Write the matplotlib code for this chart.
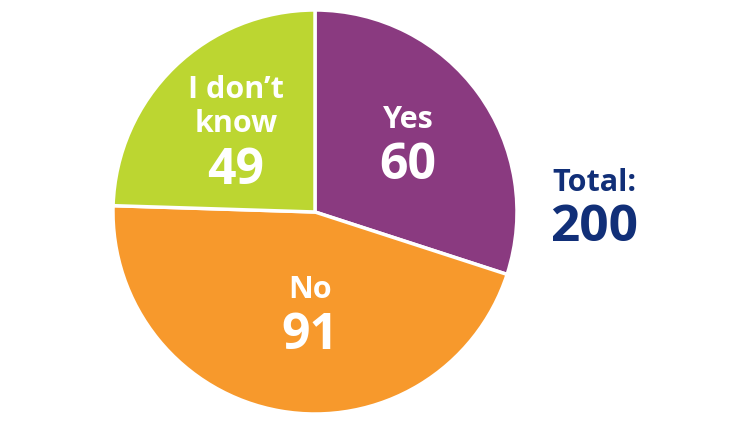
import matplotlib
matplotlib.use("Agg")
import matplotlib.pyplot as plt

labels = ["Yes", "No", "I don\u2019t\nknow"]
values = [60, 91, 49]
colors = ["#8A3A80", "#F7992C", "#BCD631"]
total_label = "Total:"
total_value = sum(values)

plt.rcParams['font.family'] = ['Open Sans', 'DejaVu Sans']

fig = plt.figure(figsize=(7.5, 4.22), dpi=100)
ax = fig.add_axes([0, 0, 1, 1])

cx, cy, r = 315, 210, 202
wedges, _ = ax.pie(values, colors=colors, startangle=90, counterclock=False,
                   center=(cx, cy), radius=r,
                   wedgeprops=dict(edgecolor='white', linewidth=2.5))
ax.set_xlim(0, 750)
ax.set_ylim(0, 422)
ax.set_aspect('equal')
ax.axis('off')

# label positions (pixel coords, y from top)
pos = [(408, 120, 166), (310, 290, 336), (236, 107, 171)]
for (x, ly, vy), lab, v in zip(pos, labels, values):
    ax.text(x, 422 - ly, lab, ha='center', va='center', color='white',
            fontsize=22, fontweight='bold', linespacing=1.15)
    ax.text(x, 422 - vy, str(v), ha='center', va='center', color='white',
            fontsize=36, fontweight='bold')

ax.text(594, 422 - 183, total_label, ha='center', va='center', color='#112F78',
        fontsize=22, fontweight='bold')
ax.text(594, 422 - 228, str(total_value), ha='center', va='center', color='#112F78',
        fontsize=37, fontweight='bold')

fig.savefig("out.png", dpi=100)
